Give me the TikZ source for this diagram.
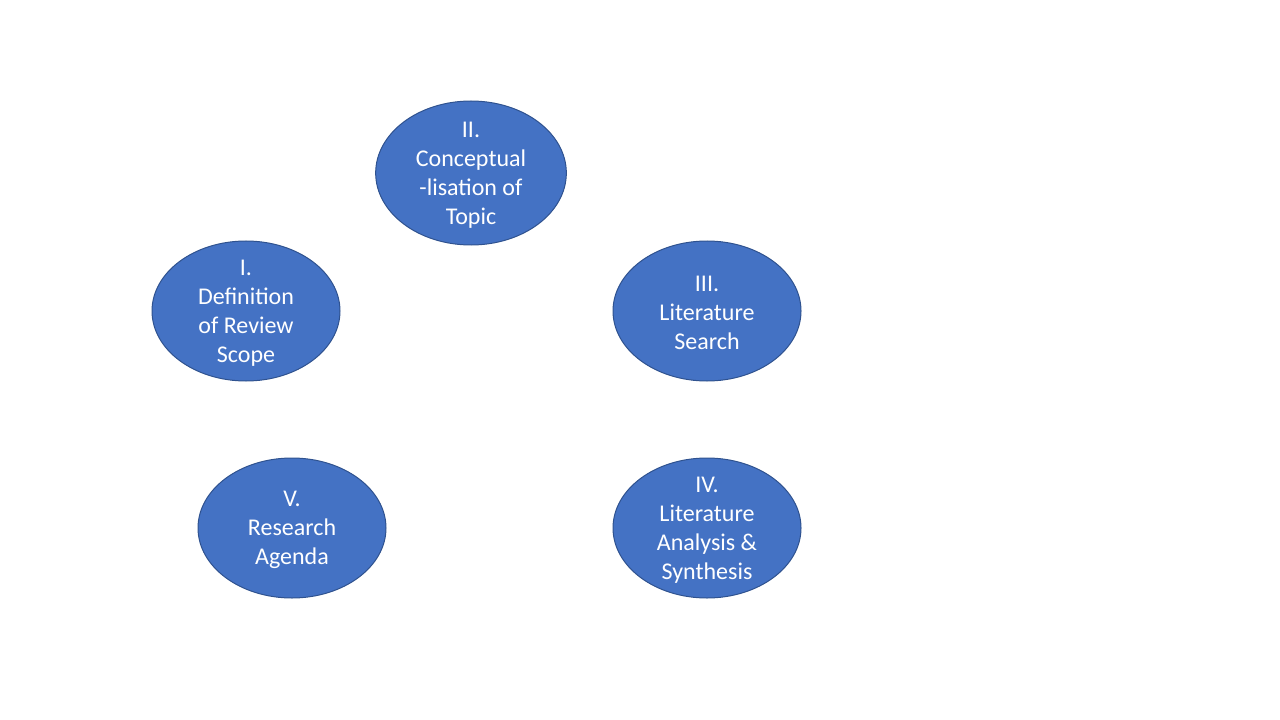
\documentclass[tikz,border=0pt]{standalone}
\usepackage{fontspec}
\setmainfont{Carlito}
\usetikzlibrary{shapes.geometric}
\definecolor{ofill}{HTML}{4472C4}
\definecolor{oline}{HTML}{2F528F}
\tikzset{
  stage/.style={ellipse, draw=oline, fill=ofill, line width=0.75pt, inner sep=0pt,
    minimum width=141pt, minimum height=105pt},
  stagetext/.style={inner sep=0pt, text=white, align=center, yshift=-1.5pt,
    font=\fontsize{18pt}{21.75pt}\selectfont}
}
\begin{document}
\begin{tikzpicture}[x=0.75pt,y=-0.75pt]
\useasboundingbox (0,0) rectangle (1280,720);
\node[stage] (s1) at (246,311) {};
\node[stagetext] (t1) at (s1.center) {I.\\Definition\\of Review\\Scope};
\node[stage, minimum width=143pt, minimum height=108pt] (s2) at (471,173) {};
\node[stagetext] (t2) at (s2.center) {II.\\Conceptual\\-lisation of\\Topic};
\node[stage] (s3) at (707,311) {};
\node[stagetext] (t3) at (s3.center) {III.\\Literature\\Search};
\node[stage] (s4) at (707,528) {};
\node[stagetext] (t4) at (s4.center) {IV.\\Literature\\Analysis \&\\Synthesis};
\node[stage] (s5) at (292,528) {};
\node[stagetext] (t5) at (s5.center) {V.\\Research\\Agenda};
\end{tikzpicture}
\end{document}
